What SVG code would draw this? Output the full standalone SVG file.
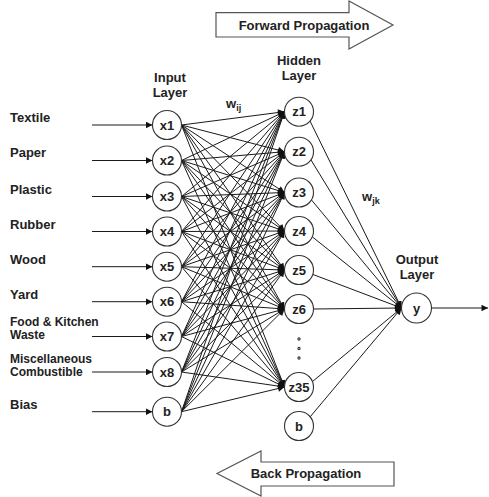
<svg xmlns="http://www.w3.org/2000/svg" width="489" height="497" viewBox="0 0 489 497">
<style>
text{font-family:"Liberation Sans",Arial,sans-serif;font-weight:bold;fill:#222}
.lbl{font-size:13px}
.sm{font-size:12px}
.nd{font-size:13px;text-anchor:middle}
.ttl{font-size:13px;text-anchor:middle}
.node circle{fill:#fff;stroke:#333;stroke-width:1.1}
.conn line{stroke:#1a1a1a;stroke-width:1}
.big{fill:#fff;stroke:#555;stroke-width:1.2}
</style>
<defs>
<marker id="ah" viewBox="0 0 10 10" refX="10" refY="5" markerWidth="7.5" markerHeight="6.5" markerUnits="userSpaceOnUse" orient="auto">
<path d="M0,0L10,5L0,10z" fill="#111"/>
</marker>
</defs>
<rect width="489" height="497" fill="#fff"/>
<g id="forward-arrow">
<polygon class="big" points="216,12.7 349,12.7 349,1 393,25 349,49 349,37 216,37"/>
<text class="ttl" x="304" y="29.5">Forward Propagation</text>
</g>
<g id="back-arrow">
<polygon class="big" points="394,462 261,462 261,451 217,473.5 261,496 261,486 394,486"/>
<text class="ttl" x="306" y="478">Back Propagation</text>
</g>
<g id="layer-labels">
<text class="ttl" x="170" y="81.5">Input</text>
<text class="ttl" x="170" y="96.5">Layer</text>
<text class="ttl" x="299" y="64.5">Hidden</text>
<text class="ttl" x="299" y="79.5">Layer</text>
<text class="ttl" x="417" y="263.5">Output</text>
<text class="ttl" x="417" y="278.5">Layer</text>
<text class="lbl" x="226" y="108">w<tspan font-size="9" dy="3">ij</tspan></text>
<text class="lbl" x="362" y="201">w<tspan font-size="9" dy="3">jk</tspan></text>
</g>
<g id="input-labels">
<text class="lbl" x="10" y="121.5">Textile</text>
<text class="lbl" x="10" y="156.5">Paper</text>
<text class="lbl" x="10" y="193.5">Plastic</text>
<text class="lbl" x="10" y="228.5">Rubber</text>
<text class="lbl" x="10" y="263.5">Wood</text>
<text class="lbl" x="10" y="298.5">Yard</text>
<text class="sm" x="10" y="326">Food &amp; Kitchen</text>
<text class="sm" x="10" y="339">Waste</text>
<text class="sm" x="10" y="363">Miscellaneous</text>
<text class="sm" x="10" y="376">Combustible</text>
<text class="lbl" x="10" y="408.5">Bias</text>
</g>
<g id="connectors" class="conn">
<line x1="92" y1="125" x2="152.5" y2="125" marker-end="url(#ah)"/>
<line x1="92" y1="160.5" x2="152.5" y2="160.5" marker-end="url(#ah)"/>
<line x1="92" y1="196.5" x2="152.5" y2="196.5" marker-end="url(#ah)"/>
<line x1="92" y1="231.5" x2="152.5" y2="231.5" marker-end="url(#ah)"/>
<line x1="92" y1="266.7" x2="152.5" y2="266.7" marker-end="url(#ah)"/>
<line x1="92" y1="301.7" x2="152.5" y2="301.7" marker-end="url(#ah)"/>
<line x1="92" y1="336.5" x2="152.5" y2="336.5" marker-end="url(#ah)"/>
<line x1="92" y1="372" x2="152.5" y2="372" marker-end="url(#ah)"/>
<line x1="92" y1="411.7" x2="152.5" y2="411.7" marker-end="url(#ah)"/>
<g id="w-ij">
<line x1="181.5" y1="125" x2="284.5" y2="111.7" marker-end="url(#ah)"/><line x1="181.5" y1="125" x2="284.5" y2="151.7" marker-end="url(#ah)"/><line x1="181.5" y1="125" x2="284.5" y2="192.5" marker-end="url(#ah)"/><line x1="181.5" y1="125" x2="284.5" y2="231" marker-end="url(#ah)"/><line x1="181.5" y1="125" x2="284.5" y2="270" marker-end="url(#ah)"/><line x1="181.5" y1="125" x2="284.5" y2="309" marker-end="url(#ah)"/><line x1="181.5" y1="125" x2="284.5" y2="387" marker-end="url(#ah)"/>
<line x1="181.5" y1="160.5" x2="284.5" y2="111.7" marker-end="url(#ah)"/><line x1="181.5" y1="160.5" x2="284.5" y2="151.7" marker-end="url(#ah)"/><line x1="181.5" y1="160.5" x2="284.5" y2="192.5" marker-end="url(#ah)"/><line x1="181.5" y1="160.5" x2="284.5" y2="231" marker-end="url(#ah)"/><line x1="181.5" y1="160.5" x2="284.5" y2="270" marker-end="url(#ah)"/><line x1="181.5" y1="160.5" x2="284.5" y2="309" marker-end="url(#ah)"/><line x1="181.5" y1="160.5" x2="284.5" y2="387" marker-end="url(#ah)"/>
<line x1="181.5" y1="196.5" x2="284.5" y2="111.7" marker-end="url(#ah)"/><line x1="181.5" y1="196.5" x2="284.5" y2="151.7" marker-end="url(#ah)"/><line x1="181.5" y1="196.5" x2="284.5" y2="192.5" marker-end="url(#ah)"/><line x1="181.5" y1="196.5" x2="284.5" y2="231" marker-end="url(#ah)"/><line x1="181.5" y1="196.5" x2="284.5" y2="270" marker-end="url(#ah)"/><line x1="181.5" y1="196.5" x2="284.5" y2="309" marker-end="url(#ah)"/><line x1="181.5" y1="196.5" x2="284.5" y2="387" marker-end="url(#ah)"/>
<line x1="181.5" y1="231.5" x2="284.5" y2="111.7" marker-end="url(#ah)"/><line x1="181.5" y1="231.5" x2="284.5" y2="151.7" marker-end="url(#ah)"/><line x1="181.5" y1="231.5" x2="284.5" y2="192.5" marker-end="url(#ah)"/><line x1="181.5" y1="231.5" x2="284.5" y2="231" marker-end="url(#ah)"/><line x1="181.5" y1="231.5" x2="284.5" y2="270" marker-end="url(#ah)"/><line x1="181.5" y1="231.5" x2="284.5" y2="309" marker-end="url(#ah)"/><line x1="181.5" y1="231.5" x2="284.5" y2="387" marker-end="url(#ah)"/>
<line x1="181.5" y1="266.7" x2="284.5" y2="111.7" marker-end="url(#ah)"/><line x1="181.5" y1="266.7" x2="284.5" y2="151.7" marker-end="url(#ah)"/><line x1="181.5" y1="266.7" x2="284.5" y2="192.5" marker-end="url(#ah)"/><line x1="181.5" y1="266.7" x2="284.5" y2="231" marker-end="url(#ah)"/><line x1="181.5" y1="266.7" x2="284.5" y2="270" marker-end="url(#ah)"/><line x1="181.5" y1="266.7" x2="284.5" y2="309" marker-end="url(#ah)"/><line x1="181.5" y1="266.7" x2="284.5" y2="387" marker-end="url(#ah)"/>
<line x1="181.5" y1="301.7" x2="284.5" y2="111.7" marker-end="url(#ah)"/><line x1="181.5" y1="301.7" x2="284.5" y2="151.7" marker-end="url(#ah)"/><line x1="181.5" y1="301.7" x2="284.5" y2="192.5" marker-end="url(#ah)"/><line x1="181.5" y1="301.7" x2="284.5" y2="231" marker-end="url(#ah)"/><line x1="181.5" y1="301.7" x2="284.5" y2="270" marker-end="url(#ah)"/><line x1="181.5" y1="301.7" x2="284.5" y2="309" marker-end="url(#ah)"/><line x1="181.5" y1="301.7" x2="284.5" y2="387" marker-end="url(#ah)"/>
<line x1="181.5" y1="336.5" x2="284.5" y2="111.7" marker-end="url(#ah)"/><line x1="181.5" y1="336.5" x2="284.5" y2="151.7" marker-end="url(#ah)"/><line x1="181.5" y1="336.5" x2="284.5" y2="192.5" marker-end="url(#ah)"/><line x1="181.5" y1="336.5" x2="284.5" y2="231" marker-end="url(#ah)"/><line x1="181.5" y1="336.5" x2="284.5" y2="270" marker-end="url(#ah)"/><line x1="181.5" y1="336.5" x2="284.5" y2="309" marker-end="url(#ah)"/><line x1="181.5" y1="336.5" x2="284.5" y2="387" marker-end="url(#ah)"/>
<line x1="181.5" y1="372" x2="284.5" y2="111.7" marker-end="url(#ah)"/><line x1="181.5" y1="372" x2="284.5" y2="151.7" marker-end="url(#ah)"/><line x1="181.5" y1="372" x2="284.5" y2="192.5" marker-end="url(#ah)"/><line x1="181.5" y1="372" x2="284.5" y2="231" marker-end="url(#ah)"/><line x1="181.5" y1="372" x2="284.5" y2="270" marker-end="url(#ah)"/><line x1="181.5" y1="372" x2="284.5" y2="309" marker-end="url(#ah)"/><line x1="181.5" y1="372" x2="284.5" y2="387" marker-end="url(#ah)"/>
<line x1="181.5" y1="411.7" x2="284.5" y2="111.7" marker-end="url(#ah)"/><line x1="181.5" y1="411.7" x2="284.5" y2="151.7" marker-end="url(#ah)"/><line x1="181.5" y1="411.7" x2="284.5" y2="192.5" marker-end="url(#ah)"/><line x1="181.5" y1="411.7" x2="284.5" y2="231" marker-end="url(#ah)"/><line x1="181.5" y1="411.7" x2="284.5" y2="270" marker-end="url(#ah)"/><line x1="181.5" y1="411.7" x2="284.5" y2="309" marker-end="url(#ah)"/><line x1="181.5" y1="411.7" x2="284.5" y2="387" marker-end="url(#ah)"/>
</g>
<g id="w-jk">
<line x1="310" y1="121" x2="401.5" y2="308" marker-end="url(#ah)"/>
<line x1="311" y1="160" x2="401.5" y2="308" marker-end="url(#ah)"/>
<line x1="311.5" y1="200" x2="401.5" y2="308" marker-end="url(#ah)"/>
<line x1="312.5" y1="237" x2="401.5" y2="308" marker-end="url(#ah)"/>
<line x1="313" y1="274.5" x2="401.5" y2="308" marker-end="url(#ah)"/>
<line x1="313.5" y1="309" x2="401.5" y2="308" marker-end="url(#ah)"/>
<line x1="312.5" y1="381.5" x2="401.5" y2="308" marker-end="url(#ah)"/>
<line x1="310" y1="417" x2="401.5" y2="308" marker-end="url(#ah)"/>
</g>
<line x1="431.5" y1="308" x2="488" y2="308" marker-end="url(#ah)"/>
</g>
<g id="input-nodes" class="node">
<g id="x1"><circle cx="167" cy="125" r="14.5"/><text class="nd" x="167" y="129.7">x1</text></g>
<g id="x2"><circle cx="167" cy="160.5" r="14.5"/><text class="nd" x="167" y="165.2">x2</text></g>
<g id="x3"><circle cx="167" cy="196.5" r="14.5"/><text class="nd" x="167" y="201.2">x3</text></g>
<g id="x4"><circle cx="167" cy="231.5" r="14.5"/><text class="nd" x="167" y="236.2">x4</text></g>
<g id="x5"><circle cx="167" cy="266.7" r="14.5"/><text class="nd" x="167" y="271.4">x5</text></g>
<g id="x6"><circle cx="167" cy="301.7" r="14.5"/><text class="nd" x="167" y="306.4">x6</text></g>
<g id="x7"><circle cx="167" cy="336.5" r="14.5"/><text class="nd" x="167" y="341.2">x7</text></g>
<g id="x8"><circle cx="167" cy="372" r="14.5"/><text class="nd" x="167" y="376.7">x8</text></g>
<g id="xb"><circle cx="167" cy="411.7" r="14.5"/><text class="nd" x="167" y="416.4">b</text></g>
</g>
<g id="hidden-nodes" class="node">
<g id="z1"><circle cx="299" cy="111.7" r="14.5"/><text class="nd" x="299" y="116.4">z1</text></g>
<g id="z2"><circle cx="299" cy="151.7" r="14.5"/><text class="nd" x="299" y="156.4">z2</text></g>
<g id="z3"><circle cx="299" cy="192.5" r="14.5"/><text class="nd" x="299" y="197.2">z3</text></g>
<g id="z4"><circle cx="299" cy="231" r="14.5"/><text class="nd" x="299" y="235.7">z4</text></g>
<g id="z5"><circle cx="299" cy="270" r="14.5"/><text class="nd" x="299" y="274.7">z5</text></g>
<g id="z6"><circle cx="299" cy="309" r="14.5"/><text class="nd" x="299" y="313.7">z6</text></g>
<g id="dots"><circle cx="299" cy="339" r="1.1" fill="#333" stroke="none"/><circle cx="299" cy="348.5" r="1.1" fill="#333" stroke="none"/><circle cx="299" cy="358" r="1.1" fill="#333" stroke="none"/></g>
<g id="z35"><circle cx="299" cy="387" r="14.5"/><text class="nd" x="299" y="391.7">z35</text></g>
<g id="zb"><circle cx="299" cy="426" r="14.5"/><text class="nd" x="299" y="430.7">b</text></g>
</g>
<g id="output-node" class="node">
<g id="y"><circle cx="416.5" cy="308" r="15"/><text class="nd" x="416.5" y="312.7">y</text></g>
</g>
</svg>
